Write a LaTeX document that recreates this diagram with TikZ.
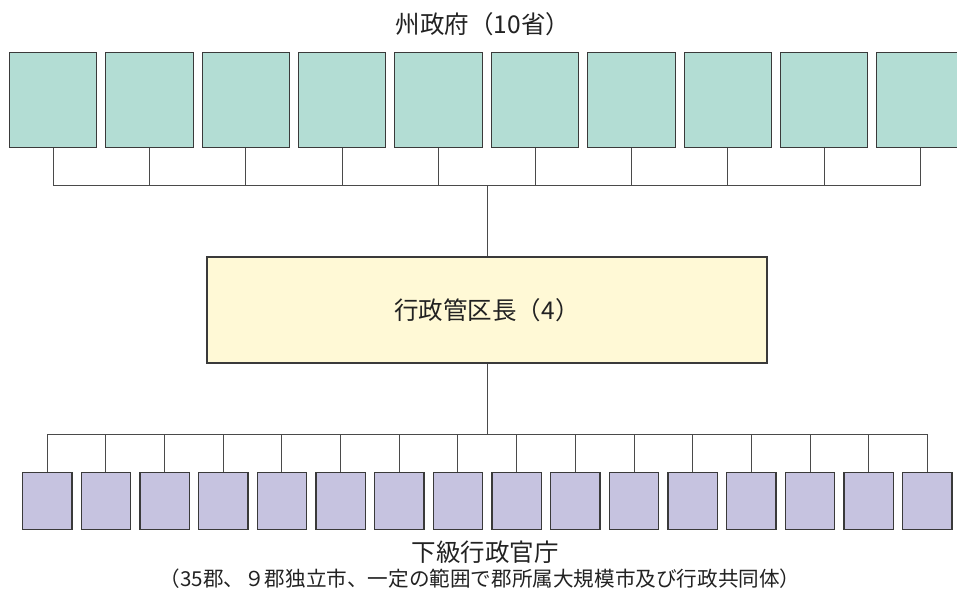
\documentclass[tikz,border=0pt]{standalone}
\usepackage{fontspec}
\setmainfont{Noto Sans CJK JP}
\definecolor{topfill}{HTML}{B3DDD4}
\definecolor{midfill}{HTML}{FFF9D6}
\definecolor{lowfill}{HTML}{C6C3E0}
\definecolor{edge}{HTML}{3A3A3A}
\definecolor{wire}{HTML}{4A4A4A}
\definecolor{ink}{HTML}{222222}
\tikzset{
  statebox/.style={draw=edge, line width=1.1pt, fill=topfill, minimum width=87.4pt, minimum height=94.6pt, inner sep=0pt},
  midbox/.style={draw=edge, line width=1.1pt, fill=midfill, minimum width=560pt, minimum height=106pt, inner sep=0pt, text=ink, font=\fontsize{24.5}{28}\selectfont},
  lowbox/.style={draw=edge, line width=1.1pt, fill=lowfill, minimum width=49.3pt, minimum height=57pt, inner sep=0pt},
  wireline/.style={draw=wire, line width=1pt},
  titletext/.style={text=ink, inner sep=0pt, font=\fontsize{24.5}{28}\selectfont},
  subtext/.style={text=ink, inner sep=0pt, font=\fontsize{20.6}{24}\selectfont}
}
\begin{document}
\begin{tikzpicture}[x=1pt,y=-1pt]
\useasboundingbox (0,0) rectangle (957,596);
\clip (0,0) rectangle (957,596);
\node[titletext] (title) at (483,24) {州政府（10省）};
\foreach \i in {0,...,9} {
  \node[statebox] (t\i) at ({53+96.4*\i},100) {};
}
\coordinate (topbus) at (487,185);
\foreach \i in {0,...,9} {
  \draw[wireline] (t\i.south) |- (topbus);
}
\node[midbox] (mid) at (487,310) {行政管区長（4）};
\draw[wireline] (topbus) -- (mid.north);
\coordinate (lowbus) at (487,434.7);
\draw[wireline] (mid.south) -- (lowbus);
\foreach \i in {0,...,15} {
  \node[lowbox] (b\i) at ({47.3+58.67*\i},500.8) {};
  \draw[wireline] (lowbus) -| (b\i.north);
}
\node[titletext] (lowtitle) at (485,552) {下級行政官庁};
\node[subtext] (lowsub) at (480,579) {（35郡、９郡独立市、一定の範囲で郡所属大規模市及び行政共同体）};
\end{tikzpicture}
\end{document}
